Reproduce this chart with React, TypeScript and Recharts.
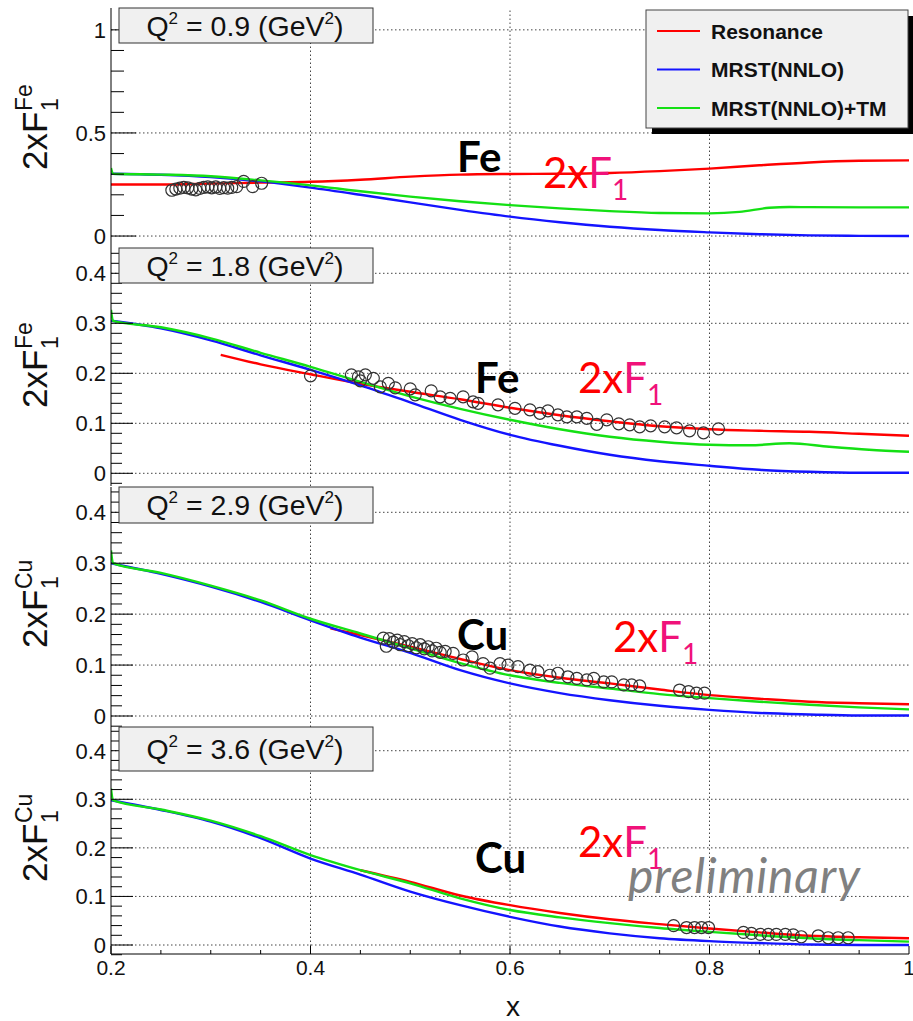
import React from "react";
import { ComposedChart, Line, Scatter, XAxis, YAxis, ReferenceLine } from "recharts";

// ROOT-ish look
const HELV = "'Liberation Sans', Arial, Helvetica, sans-serif";
const CAL = "Lato, 'Open Sans', sans-serif";
const RED = "#ff0000";
const BLUE = "#1414ff";
const GREEN = "#14e014";
const PINK = "#f0127a";
const GRID = "#444";

type Pt = [number, number];

// x axis ticks (majors every 0.2, minors every 0.05)
const xTicks = [0.2, 0.25, 0.3, 0.35, 0.4, 0.45, 0.5, 0.55, 0.6, 0.65, 0.7, 0.75, 0.8, 0.85, 0.9, 0.95, 1];
const xGrid = [0.4, 0.6, 0.8];
const yTicksWide = [0, 0.1, 0.2, 0.3, 0.4, 0.5, 0.6, 0.7, 0.8, 0.9, 1];
const yGridWide = [0, 0.5, 1];
const yTicksNarrow = [-0.02, 0, 0.02, 0.04, 0.06, 0.08, 0.1, 0.12, 0.14, 0.16, 0.18, 0.2, 0.22, 0.24, 0.26, 0.28, 0.3, 0.32, 0.34, 0.36, 0.38, 0.4, 0.42, 0.44];
const yGridNarrow = [0, 0.1, 0.2, 0.3, 0.4];

// Fe, Q2 = 0.9
const fe09Res: Pt[] = [[0.2, 0.25], [0.25, 0.25], [0.3, 0.254], [0.35, 0.259], [0.4, 0.263], [0.45, 0.273], [0.5, 0.288], [0.55, 0.298], [0.6, 0.301], [0.65, 0.302], [0.7, 0.306], [0.75, 0.315], [0.8, 0.327], [0.85, 0.343], [0.9, 0.357], [0.95, 0.365], [1, 0.367]];
const fe09Mrst: Pt[] = [[0.2, 0.302], [0.25, 0.297], [0.3, 0.286], [0.35, 0.265], [0.4, 0.235], [0.45, 0.2], [0.5, 0.163], [0.55, 0.127], [0.6, 0.094], [0.65, 0.067], [0.7, 0.045], [0.75, 0.029], [0.8, 0.018], [0.85, 0.009], [0.9, 0.003], [0.95, 0.001], [1, 0]];
const fe09TM: Pt[] = [[0.2, 0.33], [0.202, 0.302], [0.25, 0.298], [0.3, 0.29], [0.35, 0.27], [0.4, 0.246], [0.45, 0.217], [0.5, 0.191], [0.55, 0.169], [0.6, 0.15], [0.65, 0.134], [0.7, 0.121], [0.75, 0.112], [0.8, 0.11], [0.83, 0.117], [0.86, 0.137], [0.88, 0.141], [0.9, 0.14], [0.95, 0.139], [1, 0.139]];
const fe09Data: Pt[] = [[0.261, 0.222], [0.265, 0.228], [0.269, 0.232], [0.273, 0.236], [0.277, 0.234], [0.281, 0.228], [0.285, 0.224], [0.289, 0.231], [0.293, 0.236], [0.297, 0.238], [0.301, 0.234], [0.305, 0.238], [0.309, 0.231], [0.313, 0.235], [0.317, 0.232], [0.321, 0.236], [0.326, 0.24], [0.333, 0.265], [0.342, 0.24], [0.351, 0.256]];

// Fe, Q2 = 1.8
const fe18Res: Pt[] = [[0.31, 0.237], [0.35, 0.218], [0.4, 0.198], [0.45, 0.179], [0.5, 0.163], [0.55, 0.148], [0.6, 0.131], [0.65, 0.116], [0.7, 0.104], [0.75, 0.094], [0.8, 0.088], [0.85, 0.085], [0.9, 0.083], [0.95, 0.079], [1, 0.075]];
const fe18Mrst: Pt[] = [[0.2, 0.305], [0.25, 0.29], [0.3, 0.266], [0.35, 0.236], [0.4, 0.207], [0.45, 0.176], [0.5, 0.142], [0.55, 0.107], [0.6, 0.077], [0.65, 0.055], [0.7, 0.037], [0.75, 0.024], [0.8, 0.015], [0.85, 0.007], [0.9, 0.003], [0.95, 0.001], [1, 0.001]];
const fe18TM: Pt[] = [[0.2, 0.327], [0.202, 0.305], [0.25, 0.292], [0.3, 0.27], [0.35, 0.241], [0.4, 0.213], [0.45, 0.183], [0.5, 0.154], [0.55, 0.129], [0.6, 0.107], [0.65, 0.088], [0.7, 0.073], [0.75, 0.063], [0.8, 0.057], [0.84, 0.056], [0.88, 0.06], [0.92, 0.053], [0.96, 0.047], [1, 0.043]];
const fe18Data: Pt[] = [[0.4, 0.195], [0.441, 0.197], [0.448, 0.193], [0.45, 0.185], [0.455, 0.197], [0.463, 0.19], [0.47, 0.173], [0.478, 0.18], [0.485, 0.171], [0.5, 0.169], [0.505, 0.157], [0.521, 0.165], [0.53, 0.153], [0.54, 0.15], [0.553, 0.153], [0.563, 0.143], [0.568, 0.14], [0.588, 0.137], [0.605, 0.13], [0.62, 0.127], [0.63, 0.12], [0.638, 0.125], [0.648, 0.117], [0.657, 0.113], [0.667, 0.113], [0.677, 0.11], [0.687, 0.098], [0.697, 0.107], [0.709, 0.099], [0.72, 0.097], [0.73, 0.093], [0.741, 0.095], [0.755, 0.093], [0.767, 0.091], [0.78, 0.085], [0.794, 0.081], [0.809, 0.089]];

// Cu, Q2 = 2.9
const cu29Res: Pt[] = [[0.42, 0.172], [0.45, 0.159], [0.5, 0.136], [0.55, 0.112], [0.6, 0.09], [0.65, 0.075], [0.7, 0.064], [0.75, 0.052], [0.8, 0.041], [0.85, 0.034], [0.9, 0.028], [0.95, 0.025], [1, 0.023]];
const cu29Mrst: Pt[] = [[0.2, 0.3], [0.25, 0.279], [0.3, 0.254], [0.35, 0.224], [0.4, 0.188], [0.45, 0.154], [0.5, 0.124], [0.55, 0.09], [0.6, 0.064], [0.65, 0.045], [0.7, 0.031], [0.75, 0.02], [0.8, 0.012], [0.85, 0.006], [0.9, 0.003], [0.95, 0.001], [1, 0.001]];
const cu29TM: Pt[] = [[0.2, 0.325], [0.202, 0.3], [0.25, 0.281], [0.3, 0.256], [0.35, 0.227], [0.4, 0.191], [0.45, 0.162], [0.5, 0.133], [0.55, 0.104], [0.6, 0.08], [0.65, 0.065], [0.7, 0.054], [0.75, 0.043], [0.8, 0.035], [0.85, 0.028], [0.9, 0.022], [0.95, 0.017], [1, 0.013]];
const cu29Data: Pt[] = [[0.473, 0.153], [0.476, 0.137], [0.479, 0.152], [0.483, 0.145], [0.487, 0.149], [0.49, 0.14], [0.494, 0.146], [0.498, 0.138], [0.502, 0.142], [0.506, 0.134], [0.51, 0.14], [0.514, 0.132], [0.518, 0.136], [0.522, 0.128], [0.526, 0.133], [0.53, 0.125], [0.535, 0.127], [0.543, 0.123], [0.553, 0.11], [0.562, 0.116], [0.573, 0.103], [0.58, 0.094], [0.59, 0.103], [0.598, 0.1], [0.608, 0.097], [0.62, 0.09], [0.628, 0.087], [0.64, 0.08], [0.648, 0.084], [0.658, 0.077], [0.667, 0.074], [0.677, 0.071], [0.684, 0.074], [0.694, 0.067], [0.702, 0.067], [0.714, 0.061], [0.722, 0.061], [0.73, 0.059], [0.77, 0.051], [0.779, 0.048], [0.787, 0.045], [0.795, 0.045]];

// Cu, Q2 = 3.6
const cu36Res: Pt[] = [[0.45, 0.154], [0.5, 0.13], [0.55, 0.102], [0.6, 0.082], [0.65, 0.066], [0.7, 0.053], [0.75, 0.043], [0.8, 0.034], [0.85, 0.026], [0.9, 0.019], [0.95, 0.016], [1, 0.014]];
const cu36Mrst: Pt[] = [[0.2, 0.298], [0.25, 0.278], [0.3, 0.254], [0.35, 0.22], [0.4, 0.178], [0.45, 0.145], [0.5, 0.11], [0.55, 0.082], [0.6, 0.058], [0.65, 0.038], [0.7, 0.024], [0.75, 0.014], [0.8, 0.008], [0.85, 0.004], [0.9, 0.001], [0.95, 0], [1, 0]];
const cu36TM: Pt[] = [[0.2, 0.322], [0.202, 0.298], [0.25, 0.279], [0.3, 0.256], [0.35, 0.224], [0.4, 0.185], [0.45, 0.154], [0.5, 0.127], [0.55, 0.096], [0.6, 0.072], [0.65, 0.057], [0.7, 0.045], [0.75, 0.035], [0.8, 0.027], [0.85, 0.02], [0.9, 0.014], [0.95, 0.01], [1, 0.007]];
const cu36Data: Pt[] = [[0.764, 0.04], [0.777, 0.036], [0.785, 0.036], [0.792, 0.036], [0.799, 0.036], [0.834, 0.026], [0.842, 0.024], [0.851, 0.022], [0.859, 0.022], [0.867, 0.022], [0.876, 0.022], [0.884, 0.021], [0.892, 0.017], [0.909, 0.019], [0.919, 0.015], [0.929, 0.015], [0.939, 0.015]];

const toXY = (pts: Pt[]) => pts.map(([x, y]) => ({ x, y }));
const onStep = (v: number, step: number) => Math.abs(v / step - Math.round(v / step)) < 1e-6;
const fmt = (v: number) => (Math.abs(v) < 1e-9 ? "0" : Math.abs(v - 1) < 1e-9 ? "1" : v.toFixed(1));

interface PanelDef {
  top: number;
  bottom: number;
  domain: [number, number];
  yTicks: number[];
  yGrid: number[];
  yMajor: number;
  tickLen: number;
  res: Pt[];
  mrst: Pt[];
  tm: Pt[];
  data: Pt[];
}

const panels: PanelDef[] = [
  { top: 8, bottom: 248, domain: [-0.058, 1.106], yTicks: yTicksWide, yGrid: yGridWide, yMajor: 0.5, tickLen: 25, res: fe09Res, mrst: fe09Mrst, tm: fe09TM, data: fe09Data },
  { top: 248, bottom: 486, domain: [-0.0254, 0.4506], yTicks: yTicksNarrow, yGrid: yGridNarrow, yMajor: 0.1, tickLen: 22, res: fe18Res, mrst: fe18Mrst, tm: fe18TM, data: fe18Data },
  { top: 487, bottom: 727, domain: [-0.0216, 0.4497], yTicks: yTicksNarrow, yGrid: yGridNarrow, yMajor: 0.1, tickLen: 22, res: cu29Res, mrst: cu29Mrst, tm: cu29TM, data: cu29Data },
  { top: 727, bottom: 954, domain: [-0.0185, 0.4488], yTicks: yTicksNarrow, yGrid: yGridNarrow, yMajor: 0.1, tickLen: 22, res: cu36Res, mrst: cu36Mrst, tm: cu36TM, data: cu36Data },
];

const W = 913;
const PLOT_LEFT = 111;

function Panel({ p, last }: { p: PanelDef; last: boolean }) {
  const axisH = last ? 67 : 0;
  const h = p.bottom - p.top + axisH;

  const xTickBottom = (props: any) => {
    const { x, y, payload } = props;
    const major = onStep(payload.value - 0.2, 0.2);
    return (
      <g>
        <line x1={x} x2={x} y1={y} y2={y - (major ? 8 : 4)} stroke="#000" />
        {last && major && (
          <text x={x} y={y + 21} textAnchor="middle" fontSize={21} fontFamily={HELV} fill="#111">
            {fmt(payload.value)}
          </text>
        )}
      </g>
    );
  };
  const xTickTop = (props: any) => {
    const { x, y, payload } = props;
    const major = onStep(payload.value - 0.2, 0.2);
    return <line x1={x} x2={x} y1={y} y2={y + (major ? 8 : 4)} stroke="#000" />;
  };
  const yTick = (props: any) => {
    const { x, y, payload } = props;
    const major = onStep(payload.value, p.yMajor);
    return (
      <g>
        <line x1={x} x2={x + (major ? p.tickLen : Math.round(p.tickLen / 2))} y1={y} y2={y} stroke="#000" />
        {major && (
          <text x={x - 5} y={y} dy="0.36em" textAnchor="end" fontSize={22} fontFamily={HELV} fill="#111">
            {fmt(payload.value)}
          </text>
        )}
      </g>
    );
  };
  const circle = (props: any) => <circle cx={props.cx} cy={props.cy} r={6} fill="none" stroke="#333" strokeWidth={1.2} />;

  return (
    <div style={{ position: "absolute", left: 0, top: p.top }}>
      <ComposedChart width={W} height={h} margin={{ top: 0, right: 4, bottom: 0, left: 0 }}>
        <XAxis
          type="number"
          dataKey="x"
          domain={[0.2, 1]}
          ticks={xTicks}
          interval={0}
          allowDataOverflow
          height={axisH}
          axisLine={{ stroke: "#000" }}
          tickLine={false}
          tickSize={0}
          tickMargin={0}
          tick={xTickBottom}
        />
        <XAxis
          xAxisId="top"
          orientation="top"
          type="number"
          dataKey="x"
          domain={[0.2, 1]}
          ticks={xTicks}
          interval={0}
          allowDataOverflow
          height={0}
          axisLine={{ stroke: "#000" }}
          tickLine={false}
          tickSize={0}
          tickMargin={0}
          tick={xTickTop}
        />
        <YAxis
          type="number"
          dataKey="y"
          domain={p.domain}
          ticks={p.yTicks}
          interval={0}
          allowDataOverflow
          width={PLOT_LEFT}
          axisLine={{ stroke: "#000" }}
          tickLine={false}
          tickSize={0}
          tickMargin={0}
          tick={yTick}
        />
        <YAxis
          yAxisId="right"
          orientation="right"
          type="number"
          domain={p.domain}
          allowDataOverflow
          width={0}
          axisLine={{ stroke: "#000" }}
          tick={false}
          tickLine={false}
        />
        {p.yGrid.map((v) => (
          <ReferenceLine key={"h" + v} y={v} stroke={GRID} strokeDasharray="1.5 2.5" ifOverflow="hidden" />
        ))}
        {xGrid.map((v) => (
          <ReferenceLine key={"v" + v} x={v} stroke={GRID} strokeDasharray="1.5 2.5" ifOverflow="hidden" />
        ))}
        <Line data={toXY(p.res)} dataKey="y" type="monotone" stroke={RED} strokeWidth={2.4} dot={false} isAnimationActive={false} />
        <Line data={toXY(p.mrst)} dataKey="y" type="monotone" stroke={BLUE} strokeWidth={2.4} dot={false} isAnimationActive={false} />
        <Line data={toXY(p.tm)} dataKey="y" type="monotone" stroke={GREEN} strokeWidth={2.4} dot={false} isAnimationActive={false} />
        <Scatter data={toXY(p.data)} dataKey="y" shape={circle} isAnimationActive={false} />
      </ComposedChart>
    </div>
  );
}

function YTitle({ top, sup }: { top: number; sup: string }) {
  return (
    <g transform={`translate(47, ${top}) rotate(-90)`}>
      <text x={0} y={0} fontSize={35} fontFamily={HELV} fill="#111">
        2xF
        <tspan x={59} y={-15} fontSize={23}>{sup}</tspan>
        <tspan x={59} y={11} fontSize={23}>1</tspan>
      </text>
    </g>
  );
}

function Q2Box({ top, height, q2 }: { top: number; height: number; q2: string }) {
  const cx = 245;
  const base = top + height / 2 + 10;
  return (
    <g>
      <rect x={119} y={top} width={254} height={height} fill="#f0f0f0" stroke="#333" strokeWidth={1} />
      <text x={cx} y={base} textAnchor="middle" fontSize={28.5} fontFamily={HELV} fill="#111">
        Q<tspan dy={-12} fontSize={17}>2</tspan>
        <tspan dy={12}>{` = ${q2} (GeV`}</tspan>
        <tspan dy={-12} fontSize={17}>2</tspan>
        <tspan dy={12}>)</tspan>
      </text>
    </g>
  );
}

function Tag({ x, y, name, fx, fy }: { x: number; y: number; name: string; fx: number; fy: number }) {
  return (
    <g fontFamily={CAL}>
      <text x={x} y={y} fontSize={42} fontWeight={700} fill="#000">{name}</text>
      <text x={fx} y={fy} fontSize={42} fill={RED}>
        2x<tspan fill={PINK}>F</tspan>
        <tspan fill={PINK} fontSize={28} dy={12}>1</tspan>
      </text>
    </g>
  );
}

const legendItems = [
  { label: "Resonance", color: RED },
  { label: "MRST(NNLO)", color: BLUE },
  { label: "MRST(NNLO)+TM", color: GREEN },
];

export default function App() {
  return (
    <div style={{ position: "absolute", left: 0, top: 0, width: W, height: 1021, background: "#fff", overflow: "hidden" }}>
      {panels.map((p, i) => (
        <Panel key={i} p={p} last={i === panels.length - 1} />
      ))}
      <svg width={W} height={1021} style={{ position: "absolute", left: 0, top: 0, pointerEvents: "none" }}>
        <YTitle top={170} sup="Fe" />
        <YTitle top={408} sup="Fe" />
        <YTitle top={648} sup="Cu" />
        <YTitle top={882} sup="Cu" />

        <Q2Box top={8} height={35} q2="0.9" />
        <Q2Box top={248} height={35} q2="1.8" />
        <Q2Box top={487} height={36} q2="2.9" />
        <Q2Box top={727} height={44} q2="3.6" />

        <Tag x={457} y={172} name="Fe" fx={543} fy={188} />
        <Tag x={475} y={393} name="Fe" fx={578} fy={393} />
        <Tag x={457} y={650} name="Cu" fx={613} fy={652} />
        <Tag x={475} y={873} name="Cu" fx={578} fy={857} />
        <text x={628} y={893} fontFamily={CAL} fontStyle="italic" fontSize={48} letterSpacing={0.8} fill="#808080">preliminary</text>

        <text x={513} y={1016} textAnchor="middle" fontFamily={HELV} fontSize={28} fill="#111">x</text>

        {/* legend */}
        <rect x={652} y={16} width={262} height={118} fill="#000" />
        <rect x={646} y={10} width={262} height={118} fill="#f0f0f0" stroke="#444" strokeWidth={1} />
        {legendItems.map((it, i) => (
          <g key={it.label}>
            <line x1={657} x2={700} y1={31 + i * 38.5} y2={31 + i * 38.5} stroke={it.color} strokeWidth={2} />
            <text x={711} y={31 + i * 38.5} dy="0.36em" fontFamily={HELV} fontWeight={700} fontSize={21} fill="#111">{it.label}</text>
          </g>
        ))}
      </svg>
    </div>
  );
}
